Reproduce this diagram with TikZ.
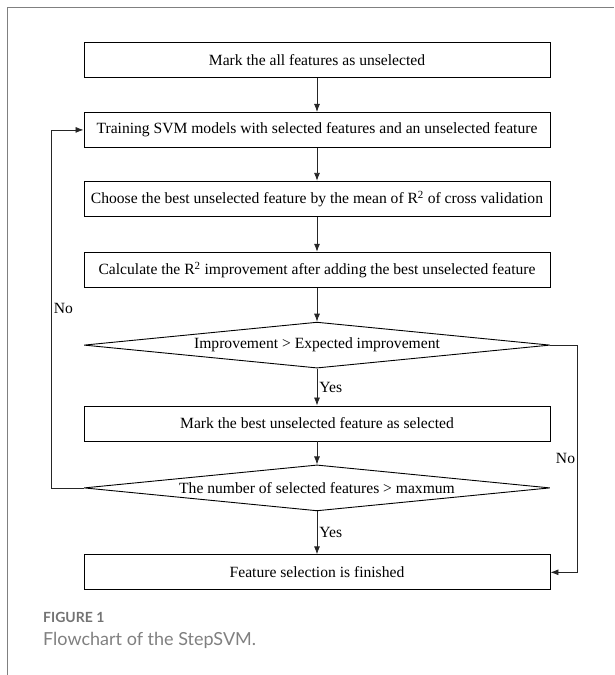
\documentclass[tikz,border=0pt]{standalone}
\usepackage{fontspec}
\setmainfont{Liberation Serif}
\newfontfamily\capfont{Lato}
\usetikzlibrary{arrows.meta,shapes,positioning}

\begin{document}
\begin{tikzpicture}[
    x=1pt,y=-1pt,
    node distance=34pt,
    proc/.style={rectangle,draw,line width=0.9pt,minimum width=466pt,minimum height=35pt,inner sep=0pt,align=center,font=\fontsize{15.6}{19}\selectfont},
    cond/.style={diamond,draw,line width=0.9pt,minimum width=466pt,minimum height=46pt,shape aspect=10,inner sep=0pt,align=center,font=\fontsize{15.6}{19}\selectfont},
    arrow/.style={line width=0.8pt,black!85,-{Latex[length=8pt,width=6pt]}},
    lbl/.style={font=\fontsize{15.6}{19}\selectfont,inner sep=2pt,text=black}
]
    \useasboundingbox (0,0) rectangle (614,675);
    \draw[black!50,line width=0.9pt] (7,675) -- (7,7) -- (614,7);

    \node[proc] (s1) at (317,60) {Mark the all features as unselected};
    \node[proc,below=34pt of s1] (s2) {Training SVM models with selected features and an unselected feature};
    \node[proc,below=33pt of s2] (s3) {Choose the best unselected feature by the mean of R\textsuperscript{2} of cross validation};
    \node[proc,below=35pt of s3] (s4) {Calculate the R\textsuperscript{2} improvement after adding the best unselected feature};
    \node[cond,below=34pt of s4] (d1) {Improvement > Expected improvement};
    \node[proc,below=37pt of d1] (s5) {Mark the best unselected feature as selected};
    \node[cond,below=23pt of s5] (d2) {The number of selected features > maxmum};
    \node[proc,below=43pt of d2] (s6) {Feature selection is finished};

    \draw[arrow] (s1) -- (s2);
    \draw[arrow] (s2) -- (s3);
    \draw[arrow] (s3) -- (s4);
    \draw[arrow] (s4) -- (d1);
    \draw[arrow] (d1) -- node[lbl,right] {Yes} (s5);
    \draw[arrow] (s5) -- (d2);
    \draw[arrow] (d2) -- node[lbl,right] {Yes} (s6);
    \draw[arrow] (d1.east) -- ++(27,0) |- node[lbl,left,pos=0.25] {No} (s6.east);
    \draw[arrow] (d2.west) -- ++(-32,0) |- node[lbl,right,pos=0.25] {No} (s2.west);

    \node[anchor=base west,inner sep=0pt,font=\capfont\bfseries\fontsize{14}{16}\selectfont,text=black!55] (fig) at (43,622) {FIGURE 1};
    \node[anchor=base west,inner sep=0pt,font=\capfont\fontsize{18}{21}\selectfont,text=black!50] (cap) at (43,645) {Flowchart of the StepSVM.};
\end{tikzpicture}
\end{document}
